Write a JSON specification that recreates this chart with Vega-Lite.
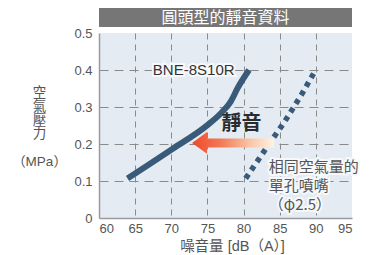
{
  "$schema": "https://vega.github.io/schema/vega-lite/v6.json",
  "background": "white",
  "padding": {"left": 11, "top": 8, "right": 4, "bottom": 2},
  "spacing": 6,
  "bounds": "flush",
  "config": {
    "font": "Liberation Sans, Noto Sans CJK TC",
    "view": {"stroke": null},
    "axis": {"labelFont": "Liberation Sans, Noto Sans CJK TC", "titleFont": "Liberation Sans, Noto Sans CJK TC"}
  },
  "datasets": {
    "solid": [
      {"x": 63.95, "y": 0.107},
      {"x": 70.1, "y": 0.186},
      {"x": 75.0, "y": 0.251},
      {"x": 77.0, "y": 0.286},
      {"x": 78.2, "y": 0.314},
      {"x": 79.2, "y": 0.352},
      {"x": 80.75, "y": 0.4}
    ],
    "dotted": [
      {"x": 80.29, "y": 0.107},
      {"x": 83.28, "y": 0.193},
      {"x": 85.6, "y": 0.258},
      {"x": 88.0, "y": 0.333},
      {"x": 89.97, "y": 0.4}
    ],
    "arrow": [{"x": 78.54, "y": 0.203}],
    "quiet": [{"x": 79.71, "y": 0.254, "label": "靜音"}],
    "bne": [{"x": 73.1, "y": 0.4, "label": "BNE-8S10R"}],
    "note": [
      {"x": 83.5, "y": 0.138, "label": "相同空氣量的"},
      {"x": 83.5, "y": 0.086, "label": "單孔噴嘴"},
      {"x": 83.5, "y": 0.035, "label": "（φ2.5）"}
    ],
    "title": [{"t": "圓頭型的靜音資料"}]
  },
  "vconcat": [
    {
      "width": 253,
      "height": 19,
      "view": {"fill": "#767676", "stroke": null},
      "data": {"name": "title"},
      "mark": {"type": "text", "color": "white", "fontSize": 16, "font": "Noto Sans CJK TC", "baseline": "middle"},
      "encoding": {"text": {"field": "t"}}
    },
    {
      "width": 253,
      "height": 185,
      "view": {"fill": "#e4ebf2", "stroke": null},
      "encoding": {
        "x": {
          "field": "x", "type": "quantitative",
          "scale": {"domain": [60, 95], "nice": false, "zero": false},
          "axis": {
            "values": [60, 65, 70, 75, 80, 85, 90, 95],
            "labelOverlap": false,
            "title": "噪音量 [dB（A）]",
            "ticks": false,
            "domainColor": "#9a9a9a", "domainWidth": 1.5,
            "grid": true, "gridColor": "#8a8a8a", "gridDash": [6, 5], "gridWidth": 1,
            "gridOpacity": {"condition": {"test": "datum.value <= 60 || datum.value >= 95", "value": 0}, "value": 1},
            "labelFontSize": 13, "labelColor": "#555555", "labelPadding": 4,
            "titleFontSize": 14.5, "titleColor": "#555555", "titleFontWeight": "normal",
            "titleX": 133, "titleY": 28, "titleBaseline": "middle", "titleAlign": "center"
          }
        },
        "y": {
          "field": "y", "type": "quantitative",
          "scale": {"domain": [0, 0.5], "nice": false},
          "axis": {
            "values": [0, 0.1, 0.2, 0.3, 0.4, 0.5],
            "labelOverlap": false,
            "labelExpr": "datum.value == 0 ? '0' : format(datum.value, '.1f')",
            "title": ["空", "氣", "壓", "力", "\u2800", "（MPa）"],
            "ticks": false,
            "domainColor": "#9a9a9a", "domainWidth": 1.5,
            "grid": true, "gridColor": "#8a8a8a", "gridDash": [9, 6], "gridWidth": 1,
            "gridOpacity": {"condition": {"test": "datum.value <= 0.001 || datum.value >= 0.49", "value": 0}, "value": 1},
            "labelFontSize": 13, "labelColor": "#555555", "labelPadding": 7,
            "titleFontSize": 13.5, "titleColor": "#555555", "titleFontWeight": "normal",
            "titleAngle": 0, "titleAlign": "center", "titleBaseline": "middle",
            "titleX": -60, "titleY": 59.5, "titleLineHeight": 13.8
          }
        }
      },
      "layer": [
        {
          "data": {"name": "solid"},
          "mark": {"type": "line", "color": "#3a5a79", "strokeWidth": 6, "interpolate": "monotone", "strokeCap": "butt"}
        },
        {
          "data": {"name": "dotted"},
          "mark": {"type": "line", "color": "#3a5a79", "strokeWidth": 5.5, "strokeDash": [5, 5], "strokeCap": "butt"}
        },
        {
          "data": {"name": "arrow"},
          "mark": {
            "type": "point",
            "shape": "M -1 0 L -0.634 -0.263 L -0.634 -0.11 L 1 -0.11 L 1 0.11 L -0.634 0.11 L -0.634 0.263 Z",
            "size": 6724,
            "filled": true,
            "opacity": 1,
            "strokeWidth": 0,
            "fill": {
              "gradient": "linear", "x1": 0, "y1": 0, "x2": 1, "y2": 0,
              "stops": [
                {"offset": 0, "color": "#ee4a2a"},
                {"offset": 0.35, "color": "#f27a55"},
                {"offset": 0.7, "color": "#f9c4a4"},
                {"offset": 1, "color": "#fff4e2"}
              ]
            }
          }
        },
        {
          "data": {"name": "quiet"},
          "mark": {"type": "text", "fontSize": 20, "fontWeight": "bold", "color": "#2b2b2b", "font": "Noto Sans CJK TC", "baseline": "middle"},
          "encoding": {"text": {"field": "label"}}
        },
        {
          "data": {"name": "bne"},
          "mark": {"type": "text", "fontSize": 15, "stroke": "#f6f8fb", "strokeWidth": 4, "color": "#f6f8fb", "baseline": "middle", "font": "Liberation Sans"},
          "encoding": {"text": {"field": "label"}}
        },
        {
          "data": {"name": "bne"},
          "mark": {"type": "text", "fontSize": 15, "color": "#333333", "baseline": "middle", "font": "Liberation Sans"},
          "encoding": {"text": {"field": "label"}}
        },
        {
          "data": {"name": "note"},
          "mark": {"type": "text", "fontSize": 15, "align": "left", "stroke": "#f6f8fb", "strokeWidth": 4, "color": "#f6f8fb", "baseline": "middle", "font": "Noto Sans CJK TC"},
          "encoding": {"text": {"field": "label"}}
        },
        {
          "data": {"name": "note"},
          "mark": {"type": "text", "fontSize": 15, "align": "left", "color": "#555555", "baseline": "middle", "font": "Noto Sans CJK TC"},
          "encoding": {"text": {"field": "label"}}
        }
      ]
    }
  ]
}
